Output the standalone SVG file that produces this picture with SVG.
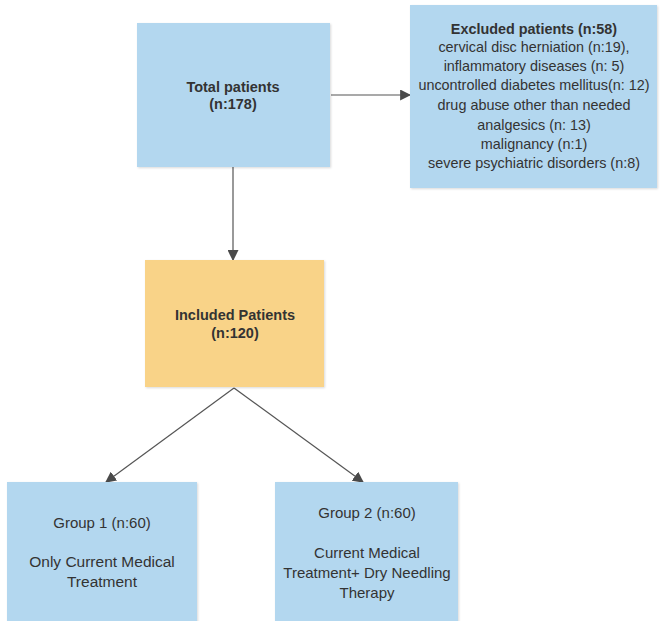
<svg xmlns="http://www.w3.org/2000/svg" width="660" height="621" viewBox="0 0 660 621">
<defs>
<marker id="arr" viewBox="0 0 10 10" refX="9" refY="5" markerWidth="11" markerHeight="11" markerUnits="userSpaceOnUse" orient="auto">
<path d="M0,0 L10,5 L0,10 z" fill="#4a4a4a"/>
</marker>
<filter id="sh" x="-5%" y="-5%" width="115%" height="115%">
<feDropShadow dx="1" dy="1" stdDeviation="1" flood-color="#000" flood-opacity="0.15"/>
</filter>
</defs>
<style>
.blue{fill:#b3d7ef;filter:url(#sh)}
.orange{fill:#f9d388;filter:url(#sh)}
text{font-family:"Liberation Sans",Arial,sans-serif;fill:#333;text-anchor:middle;font-size:15px}
.b{font-weight:bold;font-size:14.5px}
.e{font-size:14.4px}
.e.b{font-size:14.4px}
.g{font-size:15.5px}
.c{stroke:#555;stroke-width:1.2;fill:none;marker-end:url(#arr)}
</style>
<rect width="660" height="621" fill="#fff"/>
<g id="connectors">
<line class="c" x1="331" y1="95" x2="410" y2="95"/>
<line class="c" x1="233" y1="167" x2="233" y2="260"/>
<line class="c" x1="234" y1="388" x2="106" y2="482"/>
<line class="c" x1="234" y1="388" x2="363" y2="482"/>
</g>
<g id="total">
<rect class="blue" x="137" y="23" width="193" height="144"/>
<text class="b" x="233" y="92">Total patients</text>
<text class="b" x="233" y="109">(n:178)</text>
</g>
<g id="excluded">
<rect class="blue" x="410" y="5" width="247" height="183"/>
<text class="e b" x="534" y="34">Excluded patients (n:58)</text>
<text class="e" x="534" y="52">cervical disc herniation (n:19),</text>
<text class="e" x="534" y="71">inflammatory diseases (n: 5)</text>
<text class="e" x="534" y="90">uncontrolled diabetes mellitus(n: 12)</text>
<text class="e" x="534" y="110">drug abuse other than needed</text>
<text class="e" x="534" y="130">analgesics (n: 13)</text>
<text class="e" x="534" y="149">malignancy (n:1)</text>
<text class="e" x="534" y="168">severe psychiatric disorders (n:8)</text>
</g>
<g id="included">
<rect class="orange" x="145" y="260" width="179" height="127"/>
<text class="b" x="235" y="320">Included Patients</text>
<text class="b" x="235" y="338">(n:120)</text>
</g>
<g id="group1">
<rect class="blue" x="7" y="482" width="190" height="140"/>
<text x="102" y="528">Group 1 (n:60)</text>
<text class="g" x="102" y="567">Only Current Medical</text>
<text class="g" x="102" y="587">Treatment</text>
</g>
<g id="group2">
<rect class="blue" x="275" y="482" width="183" height="140"/>
<text x="367" y="518">Group 2 (n:60)</text>
<text x="367" y="558">Current Medical</text>
<text x="367" y="578">Treatment+ Dry Needling</text>
<text x="367" y="598">Therapy</text>
</g>
</svg>
